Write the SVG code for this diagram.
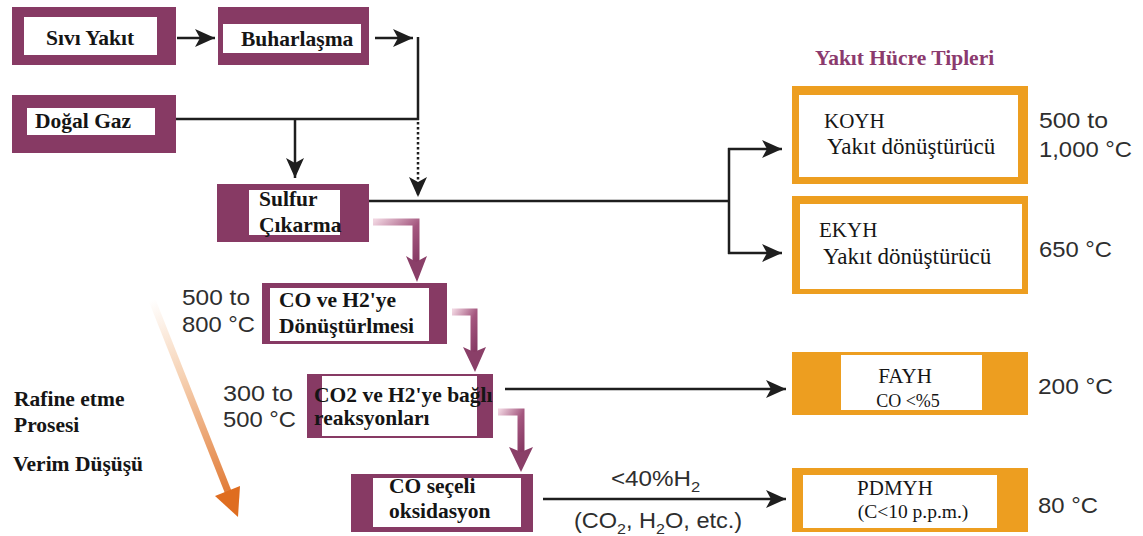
<svg xmlns="http://www.w3.org/2000/svg" width="1143" height="536" viewBox="0 0 1143 536">
<style>
.pb{fill:#873A64}
.ob{fill:#ED9E20}
.wh{fill:#ffffff}
.bt{font-family:"Liberation Serif","Times New Roman",serif;font-weight:bold;font-size:21.5px;fill:#151515}
.rt{font-family:"Liberation Serif","Times New Roman",serif;font-size:21px;fill:#151515}
.st{font-family:"Liberation Sans",Arial,sans-serif;font-size:22px;fill:#2e2e2e}
.ln{stroke:#1e1e1e;stroke-width:2.5;fill:none}
.ar{marker-end:url(#ah)}
</style>
<defs>
<marker id="ah" markerUnits="userSpaceOnUse" markerWidth="21" markerHeight="18" refX="20" refY="9" orient="auto">
<path d="M0,0 L20,9 L0,18 L5,9 z" fill="#1e1e1e"/>
</marker>
<linearGradient id="pg" x1="0" y1="0" x2="1" y2="1">
<stop offset="0" stop-color="#f0d4e0"/>
<stop offset="0.55" stop-color="#a4577f"/>
<stop offset="1" stop-color="#873A64"/>
</linearGradient>
<linearGradient id="og" gradientUnits="userSpaceOnUse" x1="152" y1="300" x2="238" y2="517">
<stop offset="0" stop-color="#ffffff"/>
<stop offset="0.35" stop-color="#f6d2b4"/>
<stop offset="1" stop-color="#dd6a1e"/>
</linearGradient>
</defs>
<rect width="1143" height="536" fill="#ffffff"/>

<g id="connectors">
<path class="ln ar" d="M177,38 H215"/>
<path class="ln ar" d="M375,38 H413"/>
<path class="ln" d="M418,37 V120 M176,119 H419"/>
<path class="ln ar" d="M295,119 V178"/>
<path class="ln ar" d="M418,122 V197" stroke-width="3" stroke-dasharray="2.5 2.5"/>
<path class="ln" d="M369,201 H729 M729,148 V254"/>
<path class="ln ar" d="M728,149 H782"/>
<path class="ln ar" d="M728,253 H782"/>
<path class="ln ar" d="M505,389 H786"/>
<path class="ln ar" d="M543,499 H786"/>
<g id="purple-arrows">
<path d="M373,222 H416 V262" fill="none" stroke="url(#pg)" stroke-width="7"/>
<path d="M406,256 L416,262 L427,256 L417,282 z" fill="#8a3f68"/>
<path d="M452,312 H474 V352" fill="none" stroke="url(#pg)" stroke-width="7"/>
<path d="M463,347 L474,352 L486,347 L475,372 z" fill="#8a3f68"/>
<path d="M498,412 H521 V452" fill="none" stroke="url(#pg)" stroke-width="7"/>
<path d="M509,447 L521,452 L533,447 L521,472 z" fill="#8a3f68"/>
</g>
<g id="orange-arrow">
<path d="M152,300 L229,494" stroke="url(#og)" stroke-width="7" fill="none"/>
<path d="M240,486 L238,517 L215,496 z" fill="#df6d20"/>
</g>
</g>

<g id="node-sivi">
<rect class="pb" x="12" y="7" width="164" height="58"/>
<rect class="wh" x="24" y="17" width="133" height="38"/>
<text class="bt" x="46" y="45">Sıvı Yakıt</text>
</g>
<g id="node-buhar">
<rect class="pb" x="218" y="7" width="151" height="58"/>
<rect class="wh" x="223" y="24" width="138" height="29"/>
<text class="bt" x="241" y="46">Buharlaşma</text>
</g>
<g id="node-dogal">
<rect class="pb" x="12" y="95" width="164" height="58"/>
<rect class="wh" x="27" y="108" width="128" height="27"/>
<text class="bt" x="35" y="128">Doğal Gaz</text>
</g>
<g id="node-sulfur">
<rect class="pb" x="217" y="184" width="152" height="58"/>
<rect class="wh" x="249" y="190" width="91" height="45"/>
<text class="bt" x="259" y="206">Sulfur</text>
<text class="bt" x="259" y="232">Çıkarma</text>
</g>
<g id="node-coh2">
<rect class="pb" x="262" y="283" width="185" height="61"/>
<rect class="wh" x="270" y="288" width="159" height="53"/>
<text class="bt" x="279" y="307">CO ve H2'ye</text>
<text class="bt" x="279" y="333">Dönüştürlmesi</text>
</g>
<g id="node-co2">
<rect class="pb" x="307" y="374" width="186" height="64"/>
<rect class="wh" x="322" y="376" width="155" height="60"/>
<text class="bt" x="314" y="402">CO2 ve H2'ye bağlı</text>
<text class="bt" x="314" y="425">reaksyonları</text>
</g>
<g id="node-cosec">
<rect class="pb" x="351" y="474" width="182" height="58"/>
<rect class="wh" x="373" y="478" width="148" height="49"/>
<text class="bt" x="389" y="493">CO seçeli</text>
<text class="bt" x="389" y="518">oksidasyon</text>
</g>

<g id="title">
<text class="bt" x="815" y="65" style="fill:#8B3A6E">Yakıt Hücre Tipleri</text>
</g>
<g id="node-koyh">
<rect class="ob" x="792" y="86" width="236" height="98"/>
<rect class="wh" x="799" y="95" width="219" height="82"/>
<text class="rt" x="824" y="128">KOYH</text>
<text class="rt" x="827" y="154" style="font-size:23px">Yakıt dönüştürücü</text>
</g>
<g id="node-ekyh">
<rect class="ob" x="792" y="196" width="236" height="98"/>
<rect class="wh" x="800" y="204" width="222" height="85"/>
<text class="rt" x="819" y="237">EKYH</text>
<text class="rt" x="823" y="264" style="font-size:23px">Yakıt dönüştürücü</text>
</g>
<g id="node-fayh">
<rect class="ob" x="792" y="352" width="236" height="63"/>
<rect class="wh" x="841" y="355" width="141" height="55"/>
<text class="rt" x="905" y="383" text-anchor="middle">FAYH</text>
<text class="rt" x="908" y="407" text-anchor="middle" style="font-size:18px">CO &lt;%5</text>
</g>
<g id="node-pdmyh">
<rect class="ob" x="792" y="468" width="236" height="64"/>
<rect class="wh" x="803" y="475" width="194" height="53"/>
<text class="rt" x="895" y="495" text-anchor="middle">PDMYH</text>
<text class="rt" x="913" y="518" text-anchor="middle" style="font-size:19.5px">(C&lt;10 p.p.m.)</text>
</g>

<g id="temperatures">
<text class="st" x="1039" y="128" textLength="69" lengthAdjust="spacingAndGlyphs">500 to</text>
<text class="st" x="1039" y="157" textLength="93" lengthAdjust="spacingAndGlyphs">1,000 °C</text>
<text class="st" x="1039" y="257" textLength="73" lengthAdjust="spacingAndGlyphs">650 °C</text>
<text class="st" x="1038" y="394" textLength="75" lengthAdjust="spacingAndGlyphs">200 °C</text>
<text class="st" x="1038" y="513" textLength="60" lengthAdjust="spacingAndGlyphs">80 °C</text>
<text class="st" x="182" y="305" textLength="68" lengthAdjust="spacingAndGlyphs">500 to</text>
<text class="st" x="182" y="332" textLength="73" lengthAdjust="spacingAndGlyphs">800 °C</text>
<text class="st" x="223" y="401" textLength="70" lengthAdjust="spacingAndGlyphs">300 to</text>
<text class="st" x="223" y="427" textLength="73" lengthAdjust="spacingAndGlyphs">500 °C</text>
</g>

<g id="labels">
<text class="st" transform="translate(611,486) scale(1.1,1)">&lt;40%H<tspan dy="6" style="font-size:15px">2</tspan></text>
<text class="st" transform="translate(574,528) scale(1.07,1)">(CO<tspan dy="6" style="font-size:15px">2</tspan><tspan dy="-6">, H</tspan><tspan dy="6" style="font-size:15px">2</tspan><tspan dy="-6">O, etc.)</tspan></text>
<text class="bt" x="14" y="406">Rafine etme</text>
<text class="bt" x="14" y="432">Prosesi</text>
<text class="bt" x="13" y="471">Verim Düşüşü</text>
</g>
</svg>
